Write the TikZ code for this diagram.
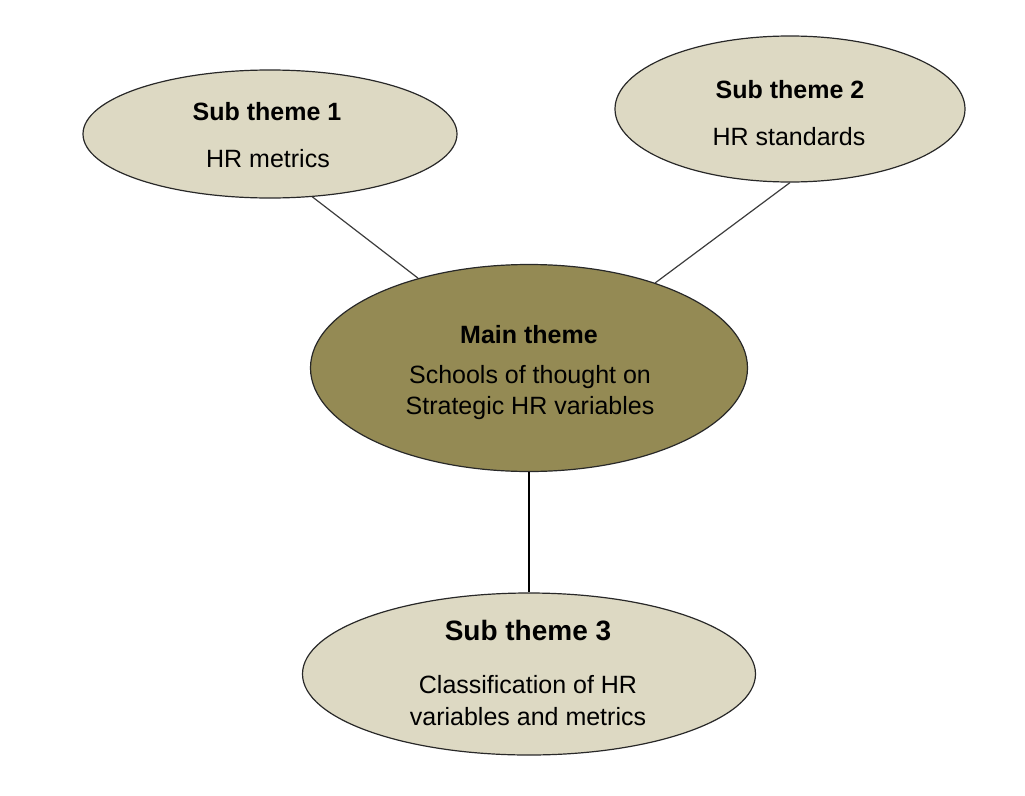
\documentclass[tikz,border=0pt]{standalone}
\usepackage{fontspec}
\setmainfont{Liberation Sans}
\usetikzlibrary{shapes.geometric}
\definecolor{subfill}{RGB}{221,217,195}
\definecolor{mainfill}{RGB}{148,138,84}
\definecolor{rim}{RGB}{40,40,40}
\definecolor{linkgrey}{RGB}{60,60,60}
\tikzset{
  bubble/.style={ellipse, draw=rim, line width=1.2pt, inner sep=0pt},
  subbubble/.style={bubble, fill=subfill},
  mainbubble/.style={bubble, fill=mainfill},
  head/.style={anchor=base, font=\fontsize{25}{30}\selectfont\bfseries},
  bighead/.style={anchor=base, font=\fontsize{28}{33}\selectfont\bfseries},
  body/.style={anchor=base, font=\fontsize{25}{30}\selectfont},
  link/.style={draw=linkgrey, line width=1.2pt}
}
\begin{document}
\begin{tikzpicture}[x=1pt, y=-1pt]
\useasboundingbox (0,0) rectangle (1025,795);

% theme bubbles
\node[subbubble, minimum width=374pt, minimum height=128pt] (sub1) at (270,134) {};
\node[subbubble, minimum width=350pt, minimum height=146pt] (sub2) at (790,109) {};
\node[mainbubble, minimum width=437pt, minimum height=207pt] (main) at (529,368) {};
\node[subbubble, minimum width=453pt, minimum height=162pt] (sub3) at (529,674) {};

% connectors
\draw[link] (sub1.-56) -- (main.141);
\draw[link] (sub2.south) -- (main.34);
\draw[link, draw=black] (main.south) -- (sub3.north);

% labels
\node[head] (t1) at (267,120) {Sub theme 1};
\node[body] (b1) at (268,167) {HR metrics};

\node[head] (t2) at (790,98) {Sub theme 2};
\node[body] (b2) at (789,145) {HR standards};

\node[head] (tm) at (529,343) {Main theme};
\node[body] (bm1) at (530,383) {Schools of thought on};
\node[body] (bm2) at (530,414) {Strategic HR variables};

\node[bighead] (t3) at (528,640) {Sub theme 3};
\node[body] (b31) at (528,693) {Classification of HR};
\node[body] (b32) at (528,725) {variables and metrics};
\end{tikzpicture}
\end{document}
